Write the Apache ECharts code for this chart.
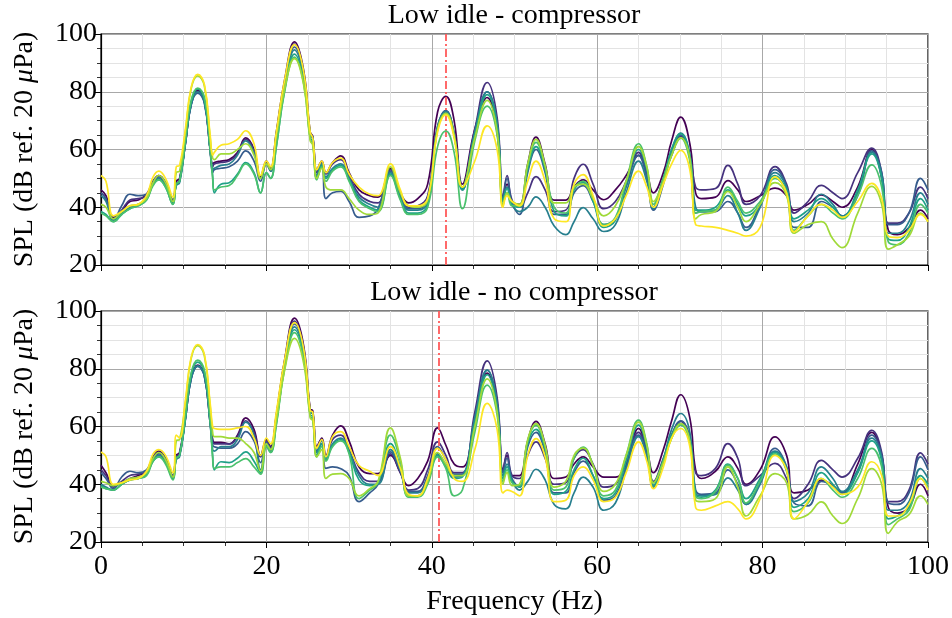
<!DOCTYPE html>
<html><head><meta charset="utf-8">
<script src="https://cdn.jsdelivr.net/npm/echarts@6/dist/echarts.min.js"></script>
<style>html,body{margin:0;padding:0;background:#fff}#c{width:952px;height:618px}</style>
</head><body><div id="c"></div>
<script>
// Frequency samples (Hz)
const freq = [0,0.6,1.5,2.5,3.5,4.5,5.5,6.3,7.0,7.8,
 8.7,9.1,9.5,10.2,10.9,11.7,12.5,13.2,13.5,13.7,
 14.5,15.5,16.5,17.5,18.5,19.3,20.0,20.5,21.2,22.2,
 23.4,24.5,25.3,25.6,26.1,26.7,27.2,28.0,29.0,30.0,
 31.2,32.5,33.5,35.0,36.2,37.2,38.3,39.5,40.7,41.7,
 42.7,43.7,45.2,46.7,47.9,48.6,49.1,49.7,50.6,51.6,
 52.6,53.7,54.8,56.2,57.2,58.3,59.5,60.8,62.2,63.5,
 65.0,66.0,66.8,68.0,69.0,70.1,71.2,71.9,72.6,74.3,
 75.8,77.0,78.0,79.7,81.5,82.9,83.8,85.5,87.1,88.5,
 89.6,91.5,93.2,94.4,95.2,96.3,97.7,99.1,100];

// Top panel: Low idle - compressor (SPL, dB)
const topS0 = [46,44,36.5,38.5,42,42.5,44.5,49,51,48.5, 42.5,49,50,62,76,80.5,77,60,55,55.5, 56,56.5,59,64,60,50.5,56,53.5,66,84, 97.3,87.5,66,64.5,53,56,52,55.5,57.8,52, 46,44,43.5,53.5,45,41.5,43,48,73,78.4, 70,48,67,78,66,43,48,42,41,55, 64.3,55,42.5,42.5,47,49.5,46,42.6,46,51, 58,52,45,52,63,71.2,62,45,43,43.5, 49.2,46,42,44,46.6,44,39,41,44.3,42, 40,47,60,50,32,30.5,33,39,36];
const topS1 = [45,43,36,39,42.5,43,44,49,51,48.5, 42.5,48,49.5,62,75.5,80,76.5,60,54,55, 55.5,56,58.5,63.5,59.5,50,55.5,53,65.5,83, 96.5,86.5,65.5,64.5,52,55.5,51.5,55,56.5,51, 44.5,42,41.5,53,44.5,40,40.5,44,68,73.5, 65.5,47,67,83.2,71,43.5,51,42.5,40,45, 50.6,46,38.5,39,50,54.9,48,39.5,42,49, 59,52,40,50,58,64.5,58,47,46,46.5, 54.5,48,41,44,54.1,48,38,42,47.6,45, 43,52,60.5,52,34.5,34.5,38,47,43];
const topS2 = [45,43,35.5,40.5,44.5,44,44.5,48.5,50.5,48, 42,48,49,62,75.5,79.5,76,59.5,52,53, 53.5,54,56,59.5,56,49,55,52.5,65,82.5, 95.5,86,65,64,50.5,54,43,45,45.5,42, 36.5,37,39.5,52.5,44,39.5,39.5,43,67.5,73, 65,46,66,80,69,43,50,41.5,37.5,52, 60,52,37.5,37.5,45,47.5,42,34,36,47, 58,50,39,48,59,65,57,38,38.5,38.5, 42,38,33,41,53,47,33,33,42,40, 37,44,59.5,52,34,34,38,50,46];
const topS3 = [44,42,35.5,38,40,41,43,48,50,47.5, 41.5,47.5,48.5,62,75.5,80,76.5,60,53,53.5, 54.5,55,58,63,59,50,55,52.5,64,81.5, 94.5,85,65,64,51,55,50.5,53.5,55,50, 43.5,41,40,52,43.5,39,39,42,68,73.3, 65.5,46.5,66,80,69,42.5,47,41,38.5,40, 43.6,40,33.5,30.5,35,39.9,36,31.6,34,45, 56,49,39.5,49,60,65.7,58,40,38.5,39, 44,38,32,40,52,47,35,38,44.5,41, 37,45,59,51,31,31,35,45,41];
const topS4 = [38.5,37.5,35,37.5,39.5,40.5,42.5,48,49.5,47, 41,48,49,62.5,76.5,81,77.5,60,51,45, 48,48.5,51.5,55.5,52,45,52,50,61,80.5, 93,84,64,63,50,54.5,50,53,54.5,49.5, 42.5,40,39,51.5,43,38,38,41,67,72.5, 65,46,65,79,68,42,46.5,41,40,53, 61,53,38.5,37,46,48.5,42,33,35.5,48, 60,53,40,50,60,65.5,58,39,39,40, 46,41,37,41,51,46,36,39,43,40, 36.5,46,58.5,50,29,28.5,33,43,39];
const topS5 = [38,37,35,37.5,39.5,40.5,42.5,47.5,49.5,47, 41,48,49,63,77,81.3,78,60,50,46, 47,47.5,51,55,51.5,45,52,50,61,80, 92,83,63.5,62,49.5,54,49,52.5,54,49, 42,39.5,38.5,51,42.5,37.5,37.5,40,61,66.4, 59,39.5,63,75,65,41,45,40.5,40.5,54.5, 62.5,54,40,38,46.5,49,43,34,36.5,49, 62,54,41,50,58,63.9,56,38,38.5,39, 47,42,38,42,50,45,32,37,41,38, 36,44,54.7,47,28,27,31,41,38];
const topS6 = [41,40,36,38.5,40.5,41,43,48.5,51,48.5, 42,52,52.5,66,81,85.5,82,64,57,56.5, 58.5,58.5,60,62,58,50,55,53,64.5,81, 91.5,82.5,63,61.5,50,53.5,47,46,46,43, 39,37.5,38,54,45,40.5,40,42.5,67,72.5, 65,47,64,77,66,40.5,45,42,41,55, 63.5,54.5,41.5,41.5,47,48,43,37,40.5,49, 61,54,42,49,58,64,57,36,37.5,38.5, 45.5,40,35,41,48.5,44,31,34,35,29, 26,38,47.2,41,25.5,27,30,38,35];
const topS7 = [51,49,37,38.5,40.5,41,44,50.5,52.5,50, 43.5,54,54.5,67,81.5,86,82.5,65,58,59, 61.5,62,63.5,66.5,62,51,56,54,66,84, 96.3,87,66,64,53,56,52,55.5,57,51.5, 47,44.5,44,55,46,40.5,40.5,43,66,72, 64,47,56,68.2,60,40,44,42,40.5,49, 56,49,36,35,48,51.3,44,33.5,36,44, 52.5,47,40,48,55,59.7,53,34,33.5,33, 32,31,30,33,50.5,45,31.5,37,41,39, 36.5,42,48.3,43,30,29.5,32,37.5,35];

// Bottom panel: Low idle - no compressor (SPL, dB)
const botS0 = [46.6,44,39.5,40.5,42,43,44.5,49.5,51.5,49, 43,50,51,63,77,81.3,78,62,55.5,54.5, 54.5,54,57,63,59,50,55.5,53,64,83, 97.5,88,66,65.5,53,56,50,57,60.2,55, 46,43.7,43.7,50,44,39.5,42,48,59.5,53.5, 47,46,62,78.5,67,45,50,43,43,55, 61.8,54,42,42.5,47,49.5,46,42.5,42.5,47, 59.3,52,44,52,62,71,63,45,42,44.5, 49.5,45.5,40,45,56.4,50,37,38,41.4,39.5, 37,47,58,50,32,30,32,40,36];
const botS1 = [45,43,39,41,43,43.5,44.5,49,51,49, 43,49.5,50.5,62.5,76.5,81,77.5,61.5,55,54, 54,54,56.5,62,58,49.5,55,52.5,63.5,82.5, 96.5,87,65.5,65,52.5,55.5,49.5,55.5,57,52, 44,41,41,50.5,44,38,38.5,45,54.7,50, 44,44,65,82.7,70,44.5,51,43,42,50, 54.7,49,40,40.5,49,52,47,39,40,48, 58,51,41,49,57,61.8,56,44,43,45.5, 54.1,49,39.5,43,47.2,42,35,40,48.3,45, 42.5,49,58.7,51,34,34,38,50.9,47];
const botS2 = [44,42,38.5,42.5,44.5,44,45,49,50.5,48.5, 42.5,49,50,62.5,76.5,80.8,77.5,61,53.5,53, 52.5,52.5,54,58.2,55,47.5,54.5,52,63,82, 95.5,86.5,65,64.5,51.5,54,45.5,46,45.4,43, 34,37,40,51.2,44.5,37.5,37.5,43,53,48.5, 43.5,43.5,63,79.5,68,44,49,42,39,53, 58,51,37,37,44,48,43,34.5,36,46, 57,50,39.5,48,57,62,56,38,36.5,37, 45,40,33,41,52.4,46,33.5,32.5,41,39.5, 37,44,57,50,33.5,33,37,49.5,45];
const botS3 = [40,39,38,40,41.5,42,43.5,48.5,50,48, 42,48.5,49.5,62.5,76.5,81,77.5,61,52,51.5, 53,53,55.5,61.5,57,45,54,51.5,62,81.5, 94.5,85.5,65,64.5,51,55,49,54,56,51.5, 43,40,40,52,45,37,37,42,50.5,46.5, 42.5,43,63,79.5,68,43,47,41.5,38,41, 45.2,41.5,33,31.5,37,42.5,39,31,33.5,45, 56.5,49.5,39,48.5,59,64.5,58,37,36,36.5, 42.2,38,33,40,51.5,46,34,37,46,42, 37.5,45,56,49,31,31,34,45.4,42];
const botS4 = [39.5,38.5,38,40,41.5,42,43.5,48,49.5,47.5, 42,49,50,63,78,82.3,79,62,50,45, 47.8,47.5,49,51.2,48,44,53.5,51,61,80.5, 93.5,84.5,64,63.5,50,54,48.5,53.5,55.5,51, 41.5,39.5,40.5,54.1,46,36,36,41,50,46, 42,42.5,61,78,66,42,46,41,39,54, 59,52,36.5,37.5,45,49,43,35,37,48, 60.5,52.5,39.5,48.5,57,61,55,36.5,35.5,38, 47,42,35,42,51,45,32,35,44,40, 36.5,44,55,48,28,29,32,43,40];
const botS5 = [39,38.5,38,40,41.5,42,43,48,49.5,47, 41.5,49,50,63.5,78.5,83,79.5,62,49,45.5, 46,46,47.5,48.9,46,43.5,53,51,60.5,80, 92.5,83.5,63.5,62.5,49.5,53,48,53,55,50.5, 35,38,40.5,57,48,35.5,35.5,40,49.5,45.5, 36,38,58,74.3,64,41,45,40.5,39.5,55, 60.5,53,38,39,49,52.9,46.5,36,38,50, 62.2,54,40.5,48,56,60.5,54.5,36,35,37.5, 46.6,42,33.5,41,50.5,44.5,30.5,33.5,42,38, 35.5,42,52.4,46,26,28,31,42,39];
const botS6 = [41,40.5,39.5,40.5,42,42.5,44,49,51,48.5, 42.5,55,55.5,68,83.5,88,84.5,67,58,56.5, 56.5,56,56,54.1,51,44.5,54,52,62,79.5, 90.5,82,63,62,49.5,52,42,43.5,43.7,42, 36,38.5,41,59.5,49,36,36,41,51,47, 43,43,60,76.5,65,40,44,39.5,40,55.5, 61,53.5,39,41,50,52.5,46.5,37.5,40,50, 61.5,53.5,40.5,47.5,56,61,55,34.5,34,35, 46,39,29,36,43.7,40.5,28,29.5,33.9,29, 26.4,35,45.4,40,23,27,29.5,36,33];
const botS7 = [51.2,49.5,40,40.5,41.5,42,44.5,50.5,52,50, 44,57,56,69,84,88.4,85,68,60,59.3, 59,59,59.5,60,56,50,56,54,65,83, 96,87,65.5,65,52.5,55.5,49.5,56.5,58.2,53, 46.5,44.5,43,53,45.5,36.5,36,42,52.4,48.5, 42,41,52,68,59,37,38,37.5,36,50, 55.8,49.5,34,34.5,43,46,41.5,34,35.5,44, 54.7,48,38.5,46,56,59.3,53,32,31,32.5, 34,31.5,28,35,50,45,28,34,42,39, 36.5,39,47.8,43,29,29,33,42,38];

const topSeries = [topS0, topS1, topS2, topS3, topS4, topS5, topS6, topS7];
const botSeries = [botS0, botS1, botS2, botS3, botS4, botS5, botS6, botS7];
const lineColors = ['#440154','#46327e','#365c8d','#277f8e','#1fa187','#4ac16d','#a0da39','#fde725'];
const panelTitles = ['Low idle - compressor', 'Low idle - no compressor'];
const markerFreq = [41.7, 40.8];
const xTicks = {min: 0, max: 100, interval: 20};
const yTicks = {min: 20, max: 100, interval: 20};

const FONT = 'Liberation Serif, Times New Roman, serif';
const chart = echarts.init(document.getElementById('c'), null, {renderer: 'canvas'});

const gridTops = [34, 311];
const grids = gridTops.map(t => ({left: 101, right: 24, top: t, height: 231, show: true,
  borderColor: '#000', borderWidth: 1.2, backgroundColor: 'transparent'}));

function xAxisCfg(idx, showLabels) {
  return {
    type: 'value', gridIndex: idx, min: xTicks.min, max: xTicks.max, interval: xTicks.interval,
    axisLine: {show: true, onZero: false, lineStyle: {color: '#000', width: 1.2}},
    axisTick: {show: true, length: 6, lineStyle: {color: '#000', width: 1}},
    minorTick: {show: true, splitNumber: 4, length: 4, lineStyle: {color: '#000', width: 0.8}},
    splitLine: {show: true, lineStyle: {color: '#a8a8a8', width: 1}},
    minorSplitLine: {show: true, lineStyle: {color: '#e3e3e3', width: 1}},
    axisLabel: {show: showLabels, fontSize: 28, fontFamily: FONT, color: '#000', margin: 11},
    name: showLabels ? 'Frequency (Hz)' : '', nameLocation: 'middle', nameGap: 46,
    nameTextStyle: {fontSize: 28, fontFamily: FONT, color: '#000'}
  };
}
function yAxisCfg(idx) {
  return {
    type: 'value', gridIndex: idx, min: yTicks.min, max: yTicks.max, interval: yTicks.interval,
    axisLine: {show: true, lineStyle: {color: '#000', width: 1.2}},
    axisTick: {show: true, length: 6, lineStyle: {color: '#000', width: 1}},
    minorTick: {show: true, splitNumber: 4, length: 4, lineStyle: {color: '#000', width: 0.8}},
    splitLine: {show: true, lineStyle: {color: '#a8a8a8', width: 1}},
    minorSplitLine: {show: true, lineStyle: {color: '#e3e3e3', width: 1}},
    axisLabel: {fontSize: 28, fontFamily: FONT, color: '#000', margin: 4},
    name: 'SPL (dB ref. 20 {i|μ}Pa)', nameLocation: 'middle', nameRotate: 90, nameGap: 62,
    nameTextStyle: {fontSize: 28, fontFamily: FONT, color: '#000',
      rich: {i: {fontSize: 28, fontFamily: FONT, fontStyle: 'italic', color: '#000'}}}
  };
}

const series = [];
[topSeries, botSeries].forEach((group, g) => {
  group.forEach((vals, i) => {
    const s = {
      type: 'line', xAxisIndex: g, yAxisIndex: g, showSymbol: false, symbol: 'none',
      smooth: 0.45, clip: true,
      lineStyle: {color: lineColors[i], width: 1.7}, itemStyle: {color: lineColors[i]},
      data: freq.map((f, k) => [f, vals[k]]), z: 2 + i
    };
    if (i === group.length - 1) {
      s.markLine = {silent: true, symbol: 'none', label: {show: false}, animation: false,
        lineStyle: {color: '#ff5a5a', type: [8, 3, 2, 3], width: 1.8},
        data: [{xAxis: markerFreq[g]}]};
    }
    series.push(s);
  });
});

chart.setOption({
  animation: false,
  backgroundColor: '#fff',
  title: panelTitles.map((t, g) => ({
    text: t, left: 514, top: g === 0 ? 2 : 279, textAlign: 'center', padding: 0,
    textStyle: {fontSize: 28, fontFamily: FONT, fontWeight: 'normal', color: '#000'}
  })),
  grid: grids,
  xAxis: [xAxisCfg(0, false), xAxisCfg(1, true)],
  yAxis: [yAxisCfg(0), yAxisCfg(1)],
  series: series
});
</script>
</body></html>
